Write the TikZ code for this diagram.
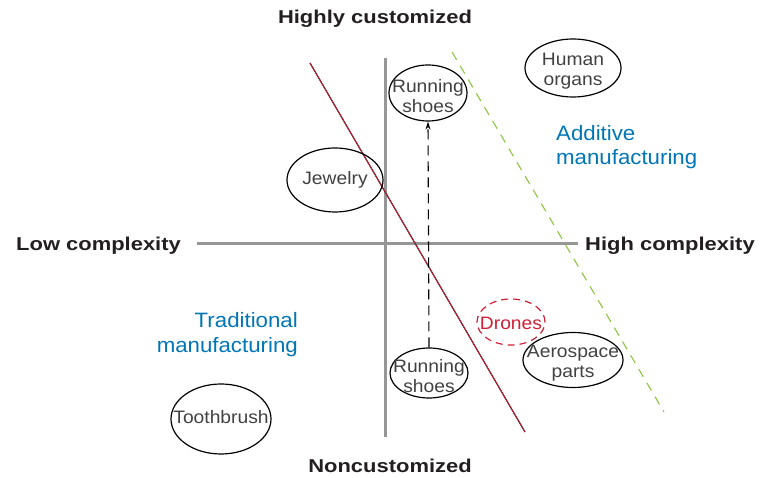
\documentclass[tikz,border=0pt]{standalone}
\usepackage{fontspec}
\setmainfont{Liberation Sans}[FakeStretch=1.07]
\newfontfamily\boldlab{Liberation Sans}[FakeStretch=1.18]
\usetikzlibrary{shapes.geometric,arrows.meta}
\definecolor{axisgray}{RGB}{150,150,150}
\definecolor{tblue}{RGB}{0,118,182}
\definecolor{lgreen}{RGB}{140,198,63}
\definecolor{dred}{RGB}{205,32,52}
\definecolor{txtgray}{RGB}{65,65,65}
\definecolor{lblack}{RGB}{35,31,32}
\begin{document}
\begin{tikzpicture}[x=1pt,y=-1pt,
  item/.style={draw=black, line width=1.2pt, ellipse, inner sep=0pt},
  itemtext/.style={text=txtgray, font=\fontsize{18}{19.5}\selectfont, align=center, inner sep=0pt, yshift=-3pt},
  axislab/.style={text=lblack, font=\boldlab\bfseries\fontsize{18.6}{20}\selectfont, inner sep=0pt, anchor=base west},
  bluelab/.style={text=tblue, font=\fontsize{20.8}{24}\selectfont, inner sep=0pt},
  axisline/.style={draw=axisgray, line width=3pt},
  dasharrow/.style={draw=black, line width=1.1pt, dash pattern=on 10pt off 6pt, -{Stealth[length=8pt,width=5pt]}}]
\useasboundingbox (0,0) rectangle (772,478);

% axes
\coordinate (vtop) at (385,58);
\coordinate (vbot) at (385,437);
\coordinate (hl) at (197,244);
\coordinate (hr) at (578,244);
\draw[axisline] (vtop) -- (vbot);
\draw[axisline] (hl) -- (hr);

% axis labels
\node[axislab, anchor=base] (hc) at (375,23.5) {Highly customized};
\node[axislab, anchor=base] (nc) at (390,473) {Noncustomized};
\node[axislab] (lc) at (16,251) {Low complexity};
\node[axislab] (hcx) at (585,251) {High complexity};

% dividing lines
\coordinate (r1) at (310,63);
\coordinate (r2) at (525,432);
\draw[black, line width=1.1pt] (r1) -- (r2);
\draw[dred, line width=0.9pt, xshift=-0.6pt] (r1) -- (r2);
\coordinate (g1) at (452,52);
\coordinate (g2) at (664,412);
\draw[lgreen, line width=1.1pt, dash pattern=on 9pt off 7pt] (g1) -- (g2);

% blue labels
\node[bluelab, anchor=base west] (am1) at (556,141) {Additive};
\node[bluelab, anchor=base west] (am2) at (556,165) {manufacturing};
\node[bluelab, anchor=base east] (tm1) at (298,328) {Traditional};
\node[bluelab, anchor=base east] (tm2) at (298,353) {manufacturing};

% items
\node[item, minimum width=78pt, minimum height=56pt] (rs1) at (428,93) {};
\node[itemtext] at (rs1.center) {Running\\shoes};
\node[item, minimum width=78pt, minimum height=50pt] (rs2) at (429,373) {};
\node[itemtext] at (rs2.center) {Running\\shoes};
\node[item, minimum width=96pt, minimum height=64pt] (jw) at (335,180) {};
\node[itemtext, yshift=3pt] at (jw.center) {Jewelry};
\node[item, minimum width=96pt, minimum height=58pt] (ho) at (573,68) {};
\node[itemtext] at (ho.center) {Human\\organs};
\node[item, minimum width=100pt, minimum height=55pt] (ap) at (573,360) {};
\node[itemtext] at (ap.center) {Aerospace\\parts};
\node[item, minimum width=100pt, minimum height=70pt] (tb) at (221,419) {};
\node[itemtext, yshift=5pt] at (tb.center) {Toothbrush};
\node[item, draw=dred, dash pattern=on 7pt off 5pt, minimum width=68pt, minimum height=46pt] (dr) at (511,322) {};
\node[itemtext, text=dred, yshift=2pt] at (dr.center) {Drones};

% arrow
\draw[dasharrow] (rs2.north) -- (rs1.south);
\end{tikzpicture}
\end{document}
